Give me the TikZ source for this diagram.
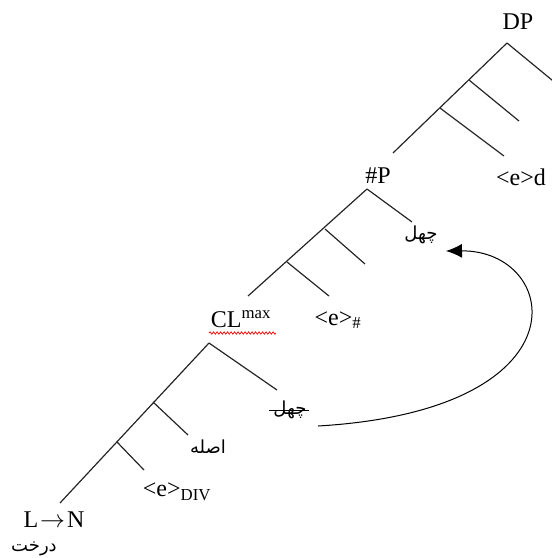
\documentclass[tikz,border=0pt]{standalone}
\usepackage{fontspec}
\setmainfont{Liberation Serif}
\newfontfamily\arabicfont[Script=Arabic]{DejaVu Sans}
\TeXXeTstate=1
\usetikzlibrary{arrows.meta,positioning,decorations.pathmorphing}

\begin{document}
\begin{tikzpicture}[x=1pt,y=-1pt,
    branch/.style={line width=1.2pt, black!85},
    lbl/.style={font=\fontsize{24}{26}\selectfont, inner sep=0pt},
    fa/.style={font=\arabicfont\fontsize{18}{20}\selectfont, inner sep=0pt}]
    \clip (0,0) rectangle (552,558);

    % DP layer
    \node[lbl] (dp) at (518,22) {DP};
    \coordinate (dpTop) at (507,43);
    \coordinate (dpR) at (575,99);
    \coordinate (dpA) at (469,80);  \coordinate (dpAend) at (519,121);
    \coordinate (dpB) at (440,108); \coordinate (dpBend) at (504,156);
    \coordinate (dpL) at (393,153);
    \draw[branch] (dpTop) -- (dpR);
    \draw[branch] (dpTop) -- (dpL);
    \draw[branch] (dpA) -- (dpAend);
    \draw[branch] (dpB) -- (dpBend);
    \node[lbl] (ed) at (521,177) {<e>d};

    % #P layer
    \node[lbl] (np) at (378,176) {\#P};
    \coordinate (npTop) at (367,189);
    \coordinate (npR) at (412,222);
    \coordinate (npA) at (325,229); \coordinate (npAend) at (365,264);
    \coordinate (npB) at (287,262); \coordinate (npBend) at (329,296);
    \coordinate (npL) at (248,296);
    \draw[branch] (npTop) -- (npR);
    \draw[branch] (npTop) -- (npL);
    \draw[branch] (npA) -- (npAend);
    \draw[branch] (npB) -- (npBend);
    \node[fa] (jahlUp) at (421,235) {\beginR چهل\endR};
    \node[lbl] (enum) at (338,320) {<e>\textsubscript{\#}};

    % CL layer
    \node[lbl] (cl) at (241,319) {CL\textsuperscript{max}};
    \draw[red, line width=0.7pt, decorate,
          decoration={snake, amplitude=1.2pt, segment length=3.5pt}]
          (209,333) -- (276,333);
    \coordinate (clTop) at (209,343);
    \coordinate (clR) at (277,390);
    \coordinate (clA) at (153,402); \coordinate (clAend) at (188,435);
    \coordinate (clB) at (117,442); \coordinate (clBend) at (144,470);
    \coordinate (clL) at (60,503);
    \draw[branch] (clTop) -- (clR);
    \draw[branch] (clTop) -- (clL);
    \draw[branch] (clA) -- (clAend);
    \draw[branch] (clB) -- (clBend);
    \node[fa] (jahlLo) at (290,410) {\beginR چهل\endR};
    \draw[line width=0.9pt] ([xshift=-4pt]jahlLo.west) -- ([xshift=2pt]jahlLo.east);
    \node[fa] (asle) at (208,447) {\beginR اصله\endR};
    \node[lbl] (ediv) at (177,492) {<e>\textsubscript{DIV}};
    \node[lbl] (ln) at (54,520) {L\kern2pt$\rightarrow$\kern2ptN};
    \node[fa, below=14pt of ln, xshift=-20pt] (tree) {\beginR درخت\endR};

    % movement arrow
    \coordinate (arrS) at (318,426);
    \coordinate (arrE) at (446,251);
    \draw[line width=1pt, -{Latex[length=16pt, width=14pt]}]
        (arrS) .. controls (590,410) and (560,250) .. (arrE);
\end{tikzpicture}
\end{document}
